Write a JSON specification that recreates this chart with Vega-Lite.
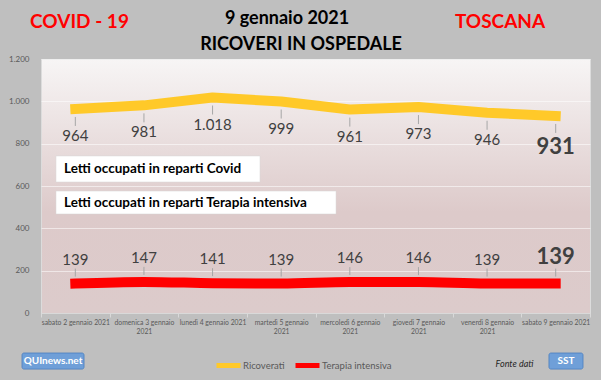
{
  "$schema": "https://vega.github.io/schema/vega-lite/v6.json",
  "width": 549,
  "height": 254,
  "autosize": {"type": "none"},
  "padding": {"left": 41, "top": 59, "right": 11, "bottom": 67},
  "background": "#bfbfbf",
  "config": {
    "font": "Lato",
    "locale": {"number": {"decimal": ",", "thousands": ".", "grouping": [3], "currency": ["€", ""]}},
    "view": {
      "stroke": "#dcdcdc",
      "fill": {
        "gradient": "linear", "x1": 0, "y1": 0, "x2": 0, "y2": 1,
        "stops": [
          {"offset": 0, "color": "#f7f5f5"},
          {"offset": 0.6, "color": "#ddcaca"},
          {"offset": 1, "color": "#dccbcb"}
        ]
      }
    }
  },
  "datasets": {
    "ricoveri": [
      {"giorno": "sabato 2 gennaio 2021", "serie": "Ricoverati", "valore": 964},
      {"giorno": "domenica 3 gennaio 2021", "serie": "Ricoverati", "valore": 981},
      {"giorno": "lunedì 4 gennaio 2021", "serie": "Ricoverati", "valore": 1018},
      {"giorno": "martedì 5 gennaio 2021", "serie": "Ricoverati", "valore": 999},
      {"giorno": "mercoledì 6 gennaio 2021", "serie": "Ricoverati", "valore": 961},
      {"giorno": "giovedì 7 gennaio 2021", "serie": "Ricoverati", "valore": 973},
      {"giorno": "venerdì 8 gennaio 2021", "serie": "Ricoverati", "valore": 946},
      {"giorno": "sabato 9 gennaio 2021", "serie": "Ricoverati", "valore": 931},
      {"giorno": "sabato 2 gennaio 2021", "serie": "Terapia intensiva", "valore": 139},
      {"giorno": "domenica 3 gennaio 2021", "serie": "Terapia intensiva", "valore": 147},
      {"giorno": "lunedì 4 gennaio 2021", "serie": "Terapia intensiva", "valore": 141},
      {"giorno": "martedì 5 gennaio 2021", "serie": "Terapia intensiva", "valore": 139},
      {"giorno": "mercoledì 6 gennaio 2021", "serie": "Terapia intensiva", "valore": 146},
      {"giorno": "giovedì 7 gennaio 2021", "serie": "Terapia intensiva", "valore": 146},
      {"giorno": "venerdì 8 gennaio 2021", "serie": "Terapia intensiva", "valore": 139},
      {"giorno": "sabato 9 gennaio 2021", "serie": "Terapia intensiva", "valore": 139}
    ]
  },
  "layer": [
    {
      "data": {"name": "ricoveri"},
      "encoding": {
        "x": {
          "field": "giorno", "type": "nominal", "sort": null,
          "scale": {"type": "band", "paddingInner": 0, "paddingOuter": 0},
          "axis": {
            "title": null, "labelAngle": 0, "labelFontSize": 6.8, "labelColor": "#595959",
            "labelPadding": 2, "labelLineHeight": 9, "labelLimit": 200,
            "labelExpr": "length(datum.label) > 21 ? [slice(datum.label, 0, lastindexof(datum.label, ' ')), '2021'] : datum.label",
            "tickBand": "extent", "tickSize": 4, "tickColor": "#d9d9d9",
            "domainColor": "#d9d9d9", "grid": false
          }
        },
        "y": {
          "field": "valore", "type": "quantitative",
          "scale": {"domain": [0, 1200]},
          "axis": {
            "title": null, "values": [0, 200, 400, 600, 800, 1000, 1200], "format": ",d",
            "labelFontSize": 8, "labelColor": "#595959", "labelPadding": 12,
            "ticks": false, "domain": false, "grid": true, "gridColor": "#ffffff", "gridOpacity": 0.55
          }
        }
      },
      "layer": [
        {
          "transform": [{"filter": "datum.serie === 'Ricoverati'"}],
          "mark": {"type": "line", "strokeWidth": 10, "strokeCap": "square", "strokeJoin": "round"},
          "encoding": {
            "color": {
              "field": "serie", "type": "nominal",
              "scale": {"domain": ["Ricoverati", "Terapia intensiva"], "range": ["#FFC929", "#FF0000"]},
              "legend": {
                "title": null, "orient": "none", "direction": "horizontal", "gridAlign": "none",
                "legendX": 173, "legendY": 292, "symbolType": "stroke", "symbolSize": 576,
                "symbolStrokeWidth": 5, "labelFontSize": 9.5, "labelColor": "#595959",
                "labelOffset": 0, "columnPadding": 0
              }
            }
          }
        },
        {
          "transform": [{"filter": "datum.serie === 'Terapia intensiva'"}],
          "mark": {"type": "line", "strokeWidth": 10, "strokeCap": "square", "interpolate": "monotone"},
          "encoding": {"color": {"field": "serie", "type": "nominal"}}
        },
        {
          "transform": [{"filter": "datum.serie === 'Ricoverati'"}],
          "mark": {"type": "rule", "color": "#a6a6a6", "strokeWidth": 1, "yOffset": 8, "y2Offset": 17},
          "encoding": {"y2": {"field": "valore"}}
        },
        {
          "transform": [{"filter": "datum.serie === 'Terapia intensiva'"}],
          "mark": {"type": "rule", "color": "#a6a6a6", "strokeWidth": 1, "yOffset": -7, "y2Offset": -15},
          "encoding": {"y2": {"field": "valore"}}
        },
        {
          "transform": [{"filter": "datum.serie === 'Ricoverati' && datum.giorno !== 'sabato 9 gennaio 2021'"}],
          "mark": {"type": "text", "fontSize": 15, "color": "#404040", "dy": 27, "baseline": "middle"},
          "encoding": {"text": {"field": "valore", "type": "quantitative", "format": ",d"}}
        },
        {
          "transform": [{"filter": "datum.serie === 'Ricoverati' && datum.giorno === 'sabato 9 gennaio 2021'"}],
          "mark": {"type": "text", "fontSize": 22, "fontWeight": "bold", "color": "#404040", "dy": 31, "baseline": "middle"},
          "encoding": {"text": {"field": "valore", "type": "quantitative", "format": ",d"}}
        },
        {
          "transform": [{"filter": "datum.serie === 'Terapia intensiva' && datum.giorno !== 'sabato 9 gennaio 2021'"}],
          "mark": {"type": "text", "fontSize": 15, "color": "#404040", "dy": -24, "baseline": "middle"},
          "encoding": {"text": {"field": "valore", "type": "quantitative", "format": ",d"}}
        },
        {
          "transform": [{"filter": "datum.serie === 'Terapia intensiva' && datum.giorno === 'sabato 9 gennaio 2021'"}],
          "mark": {"type": "text", "fontSize": 22, "fontWeight": "bold", "color": "#404040", "dy": -27, "baseline": "middle"},
          "encoding": {"text": {"field": "valore", "type": "quantitative", "format": ",d"}}
        }
      ]
    },
    {
      "encoding": {
        "x": {"field": "slot", "type": "quantitative", "scale": {"domain": [0, 8], "nice": false, "zero": false}, "axis": null},
        "y": {"field": "v", "type": "quantitative", "axis": {"title": null, "values": [0, 200, 400, 600, 800, 1000, 1200], "format": ",d", "labelFontSize": 8, "labelColor": "#595959", "labelPadding": 12, "ticks": false, "domain": false, "grid": true, "gridColor": "#ffffff", "gridOpacity": 0.55}}
      },
      "layer": [
        {
          "data": {"values": [
            {"slot": 0.219, "slot2": 3.191, "v": 742, "v2": 619},
            {"slot": 0.219, "slot2": 4.299, "v": 576, "v2": 468}
          ]},
          "mark": {"type": "rect", "fill": "#ffffff", "stroke": "#d9d9d9", "strokeWidth": 0.5},
          "encoding": {"x2": {"field": "slot2"}, "y2": {"field": "v2"}}
        },
        {
          "data": {"values": [
            {"testo": "Letti occupati in reparti Covid", "slot": 0.335, "v": 680},
            {"testo": "Letti occupati in reparti Terapia intensiva", "slot": 0.335, "v": 522}
          ]},
          "mark": {"type": "text", "align": "left", "baseline": "middle", "fontSize": 13.5, "fontWeight": "bold", "color": "#000000"},
          "encoding": {"text": {"field": "testo", "type": "nominal"}}
        },
        {
          "data": {"values": [
            {"testo": "COVID - 19", "slot": 0.561, "v": 1375},
            {"testo": "TOSCANA", "slot": 6.689, "v": 1375}
          ]},
          "mark": {"type": "text", "align": "center", "baseline": "middle", "fontSize": 19, "fontWeight": "bold", "color": "#ff0000"},
          "encoding": {"text": {"field": "testo", "type": "nominal"}}
        },
        {
          "data": {"values": [
            {"testo": "9 gennaio 2021", "slot": 3.585, "v": 1389},
            {"testo": "RICOVERI IN OSPEDALE", "slot": 3.789, "v": 1264}
          ]},
          "mark": {"type": "text", "align": "center", "baseline": "middle", "fontSize": 18, "fontWeight": "bold", "color": "#000000"},
          "encoding": {"text": {"field": "testo", "type": "nominal"}}
        },
        {
          "data": {"values": [{"testo": "Fonte dati", "slot": 6.9, "v": -241}]},
          "mark": {"type": "text", "align": "center", "baseline": "middle", "fontSize": 9, "fontStyle": "italic", "color": "#262626"},
          "encoding": {"text": {"field": "testo", "type": "nominal"}}
        },
        {
          "data": {"values": [
            {"slot": -0.277, "slot2": 0.627, "v": -189, "v2": -265},
            {"slot": 7.402, "slot2": 7.898, "v": -189, "v2": -265}
          ]},
          "mark": {"type": "rect", "fill": "#6f9fd8", "stroke": "#4a7fc0", "strokeWidth": 0.8, "cornerRadius": 2},
          "encoding": {"x2": {"field": "slot2"}, "y2": {"field": "v2"}}
        },
        {
          "data": {"values": [
            {"testo": "QUInews.net", "slot": 0.175, "v": -227},
            {"testo": "SST", "slot": 7.65, "v": -227}
          ]},
          "mark": {"type": "text", "align": "center", "baseline": "middle", "fontSize": 10, "fontWeight": "bold", "color": "#ffffff"},
          "encoding": {"text": {"field": "testo", "type": "nominal"}}
        }
      ]
    }
  ],
  "resolve": {"scale": {"x": "independent"}, "axis": {"x": "independent"}}
}
